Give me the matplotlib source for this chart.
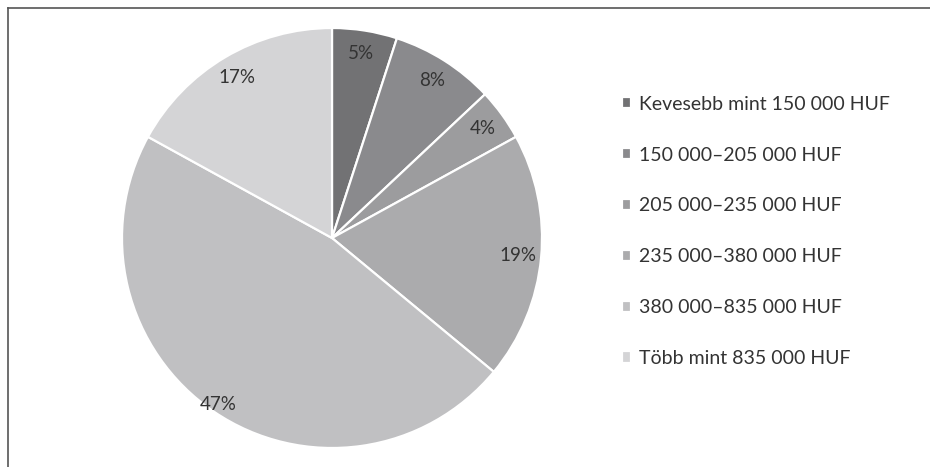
import matplotlib.pyplot as plt
from matplotlib.lines import Line2D

# income bands and shares (%)
labels = ['Kevesebb mint 150 000 HUF', '150 000–205 000 HUF', '205 000–235 000 HUF',
          '235 000–380 000 HUF', '380 000–835 000 HUF', 'Több mint 835 000 HUF']
shares = [5, 8, 4, 19, 47, 17]
colors = ['#727274', '#8a8a8d', '#9c9c9e', '#ababad', '#c0c0c2', '#d4d4d6']

plt.rcParams['font.family'] = ['Lato', 'DejaVu Sans']

W, H = 930, 467
fig = plt.figure(figsize=(W / 100, H / 100), dpi=100)

cx, cy, r = 332, 238, 210
ax = fig.add_axes([(cx - r) / W, (H - cy - r) / H, 2 * r / W, 2 * r / H])
wedges, texts, autotexts = ax.pie(shares, colors=colors, startangle=90, counterclock=False,
                                  autopct='%d%%', pctdistance=0.89,
                                  wedgeprops=dict(edgecolor='white', linewidth=1.6),
                                  textprops=dict(fontsize=13.5, color='#333333'))
# the big slice's label sits further out
x, y = autotexts[4].get_position()
autotexts[4].set_position((x * 0.96 / 0.89, y * 0.96 / 0.89))
ax.set_xlim(-1, 1)
ax.set_ylim(-1, 1)
ax.set_aspect('equal')

fig.legend(wedges, labels, loc='upper left', bbox_to_anchor=(612 / W, 1 - 86 / H),
           frameon=False, fontsize=14, labelspacing=1.74, handlelength=0.5,
           handleheight=0.5, handletextpad=0.4, labelcolor='#333333', borderpad=0)

# frame lines on top and left
fig.add_artist(Line2D([8 / W, 1], [1 - 8 / H, 1 - 8 / H], color='#555555', lw=1.2))
fig.add_artist(Line2D([8 / W, 8 / W], [0, 1 - 8 / H], color='#555555', lw=1.2))

fig.savefig('out.png', dpi=100, facecolor='white')
